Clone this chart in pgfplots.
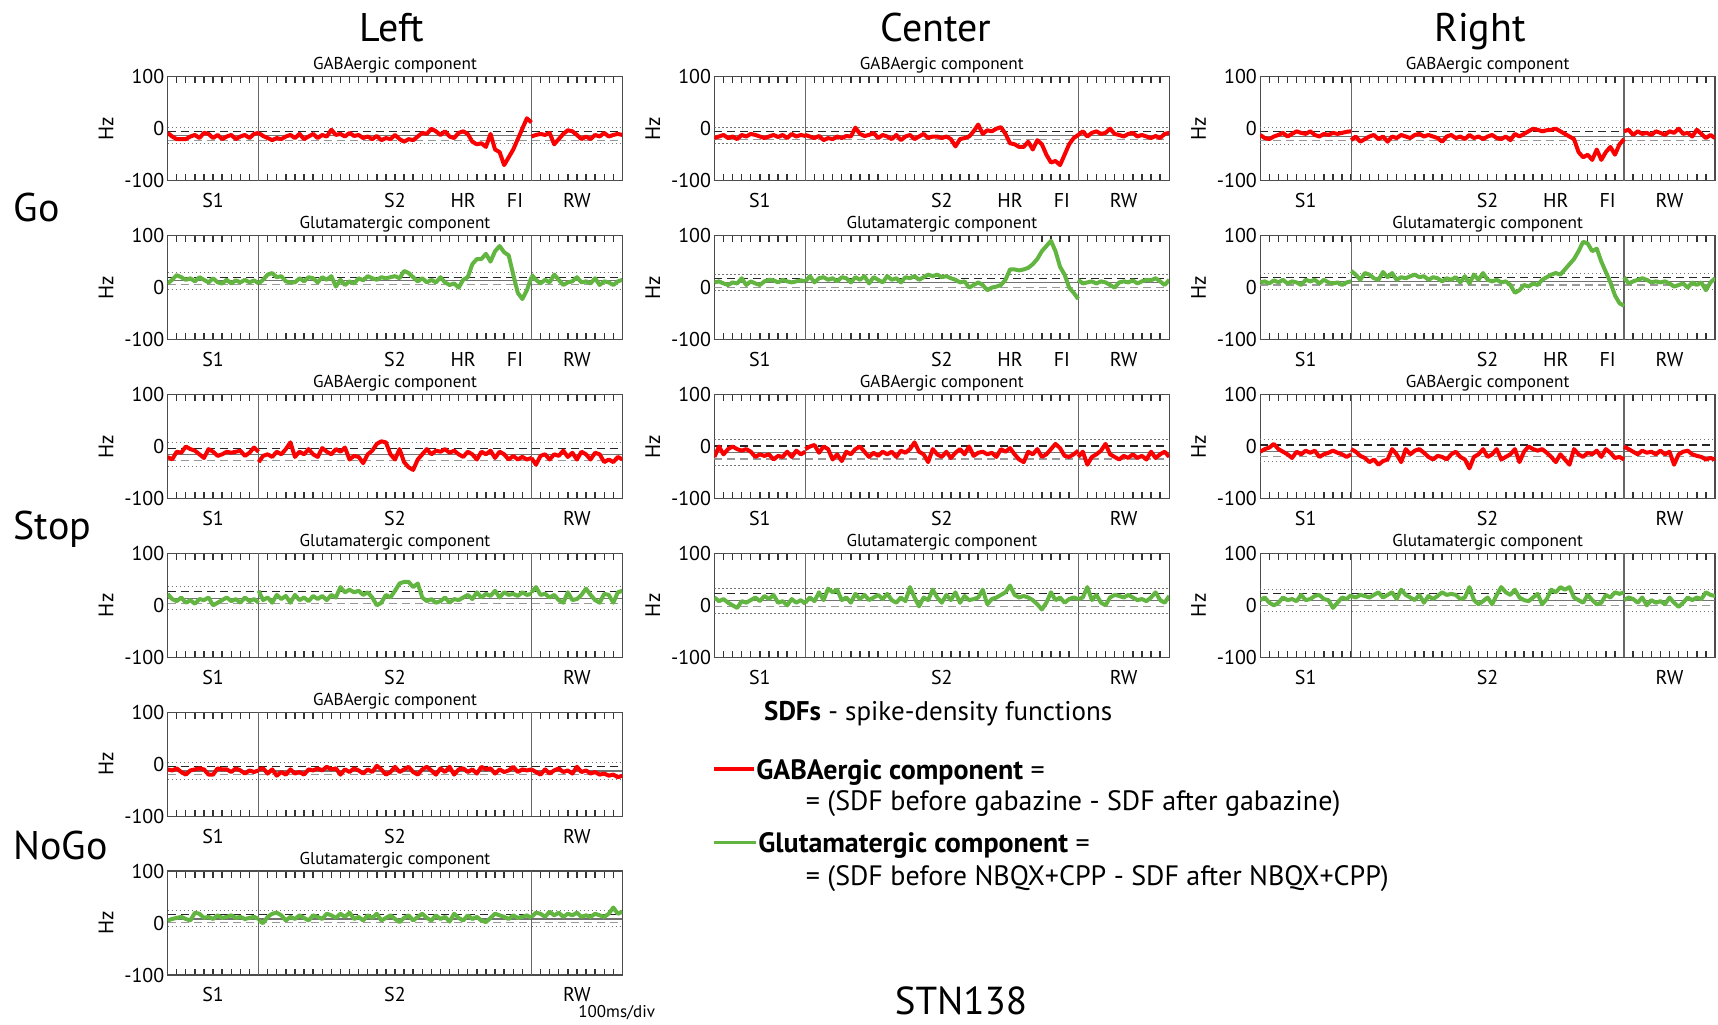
\documentclass[border=0pt]{standalone}
\usepackage{pgfplots}
\pgfplotsset{compat=1.18}
\usepackage{fontspec}
\setmainfont{PT Sans}
\definecolor{gred}{RGB}{250,0,0}
\definecolor{ggreen}{RGB}{98,181,64}
\pgfplotsset{
  panel/.style={
    anchor=north west, scale only axis, width=227.4pt, height=52pt,
    xmin=0, xmax=50, ymin=-100, ymax=100,
    axis line style={black!70, line width=0.7pt},
    every tick/.style={black!80, line width=0.7pt},
    major tick length=0pt, minor tick length=3.2pt, tick align=inside,
    xtick pos=both, ytick pos=left,
    minor xtick={1,...,49},
    ytick={-100,0,100}, yticklabels={-100,0,100},
    tick label style={font=\fontsize{10}{10}\selectfont},
    yticklabel style={inner sep=1.5pt},
    xticklabel style={anchor=base, yshift=-13.4pt, inner sep=0pt},
    title style={font=\fontsize{8.6}{8.6}\selectfont, at={(axis description cs:0.5,1)}, anchor=base, yshift=-2.6pt, inner sep=0pt},
    ylabel=Hz,
    ylabel style={font=\fontsize{10.5}{10.5}\selectfont, at={(axis description cs:0,0.5)}, anchor=center, yshift=30.8pt},
  },
  gaba/.style={title=GABAergic component},
  glu/.style={title=Glutamatergic component},
  go/.style={xtick={5,25,32.5,38.2,45}, xticklabels={S1,S2,HR,FI,RW}},
  st/.style={xtick={5,25,45}, xticklabels={S1,S2,RW}},
  redtr/.style={color=gred, line width=2pt, line join=round, mark=none},
  grntr/.style={color=ggreen, line width=2pt, line join=round, mark=none},
  rdot/.style={black!55, line width=0.5pt, dash pattern=on 0.6pt off 1.4pt, mark=none},
  rdashA/.style={black!85, line width=0.55pt, dash pattern=on 4pt off 2.5pt, mark=none},
  rsolid/.style={black!55, line width=0.55pt, mark=none},
  rdashB/.style={black!40, line width=0.55pt, dash pattern=on 4pt off 2.5pt, mark=none},
}
\newcommand{\refl}[5]{%
  \addplot[rdot] coordinates {(0,#1)(50,#1)};
  \addplot[rdashA] coordinates {(0,#2)(50,#2)};
  \addplot[rsolid] coordinates {(0,#3)(50,#3)};
  \addplot[rdashB] coordinates {(0,#4)(50,#4)};
  \addplot[rdot] coordinates {(0,#5)(50,#5)};
  \draw[black!60, line width=0.6pt] (10,-100) -- (10,100);
  \draw[black!60, line width=0.6pt] (40,-100) -- (40,100);
}
\begin{document}
\begin{tikzpicture}
\useasboundingbox (0,0) rectangle (859pt,-512pt);

% column and row headings
\node[anchor=base, font=\fontsize{20}{24}\selectfont] at (196pt,-20.8pt) {Left};
\node[anchor=base, font=\fontsize{20}{24}\selectfont] at (468pt,-20.8pt) {Center};
\node[anchor=base, font=\fontsize{20}{24}\selectfont] at (740pt,-20.8pt) {Right};
\node[anchor=base west, inner sep=0pt, font=\fontsize{20}{24}\selectfont] at (6.6pt,-110.7pt) {Go};
\node[anchor=base west, inner sep=0pt, font=\fontsize{20}{24}\selectfont] at (6.6pt,-269.5pt) {Stop};
\node[anchor=base west, inner sep=0pt, font=\fontsize{20}{24}\selectfont] at (6.6pt,-429.5pt) {NoGo};

% ===== Go Left =====
\begin{axis}[panel, gaba, go, at={(83.8pt,-38.35pt)}]
\refl{2}{-5}{-13}{-22}{-29}
\addplot[redtr] coordinates {(0,-8)(0.5,-15)(1,-20)(1.5,-20)(2,-20)(2.5,-15)(3,-12)(3.5,-18)(4,-8)(4.5,-10)(5,-18)(5.5,-12)(6,-20)(6.5,-15)(7,-12)(7.5,-20)(8,-15)(8.5,-12)(9,-18)(9.5,-10)(10,-8)};
\addplot[redtr] coordinates {(10,-8)(10.5,-14)(11,-18)(11.5,-22)(12,-18)(12.5,-20)(13,-15)(13.5,-12)(14,-18)(14.5,-10)(15,-20)(15.5,-15)(16,-10)(16.5,-18)(17,-12)(17.5,-15)(18,-2)(18.5,-12)(19,-10)(19.5,-15)(20,-8)(20.5,-14)(21,-12)(21.5,-18)(22,-15)(22.5,-20)(23,-14)(23.5,-22)(24,-18)(24.5,-20)(25,-12)(25.5,-20)(26,-25)(26.5,-20)(27,-22)(27.5,-15)(28,-8)(28.5,-10)(29,0)(29.5,-5)(30,-12)(30.5,-5)(31,-15)(31.5,-18)(32,-8)(32.5,-5)(33,-10)(33.5,-25)(34,-30)(34.5,-28)(35,-35)(35.5,-10)(36,-40)(36.5,-45)(37,-70)(37.5,-55)(38,-40)(38.5,-20)(39,0)(39.5,20)(40,12)};
\addplot[redtr] coordinates {(40,-15)(40.5,-12)(41,-10)(41.5,-12)(42,-8)(42.5,-30)(43,-20)(43.5,-10)(44,-3)(44.5,-5)(45,-12)(45.5,-20)(46,-15)(46.5,-20)(47,-12)(47.5,-15)(48,-8)(48.5,-15)(49,-12)(49.5,-10)(50,-12)};
\end{axis}
\begin{axis}[panel, glu, go, at={(83.8pt,-117.8pt)}]
\refl{29}{19}{13}{6}{-3}
\addplot[grntr] coordinates {(0,8)(0.5,15)(1,24)(1.5,20)(2,15)(2.5,18)(3,12)(3.5,20)(4,15)(4.5,10)(5,18)(5.5,10)(6,8)(6.5,15)(7,8)(7.5,14)(8,10)(8.5,15)(9,10)(9.5,14)(10,8)};
\addplot[grntr] coordinates {(10,8)(10.5,15)(11,25)(11.5,28)(12,20)(12.5,22)(13,12)(13.5,10)(14,10)(14.5,18)(15,12)(15.5,20)(16,18)(16.5,10)(17,20)(17.5,15)(18,22)(18.5,2)(19,15)(19.5,5)(20,12)(20.5,8)(21,18)(21.5,14)(22,22)(22.5,18)(23,15)(23.5,20)(24,18)(24.5,20)(25,22)(25.5,18)(26,32)(26.5,28)(27,20)(27.5,12)(28,18)(28.5,10)(29,15)(29.5,10)(30,20)(30.5,10)(31,5)(31.5,8)(32,0)(32.5,15)(33,20)(33.5,45)(34,55)(34.5,55)(35,65)(35.5,50)(36,70)(36.5,80)(37,68)(37.5,62)(38,25)(38.5,-10)(39,-22)(39.5,-5)(40,20)};
\addplot[grntr] coordinates {(40,25)(40.5,15)(41,8)(41.5,15)(42,10)(42.5,25)(43,15)(43.5,5)(44,10)(44.5,12)(45,20)(45.5,10)(46,12)(46.5,8)(47,18)(47.5,5)(48,12)(48.5,10)(49,5)(49.5,12)(50,15)};
\end{axis}

% ===== Go Center =====
\begin{axis}[panel, gaba, go, at={(357.2pt,-38.35pt)}]
\refl{2}{-5}{-13}{-21}{-29}
\addplot[redtr] coordinates {(0,-18)(0.5,-15)(1,-12)(1.5,-18)(2,-15)(2.5,-20)(3,-12)(3.5,-15)(4,-10)(4.5,-12)(5,-15)(5.5,-18)(6,-15)(6.5,-12)(7,-16)(7.5,-12)(8,-18)(8.5,-10)(9,-15)(9.5,-12)(10,-14)};
\addplot[redtr] coordinates {(10,-12)(10.5,-15)(11,-18)(11.5,-14)(12,-22)(12.5,-18)(13,-20)(13.5,-15)(14,-18)(14.5,-14)(15,-15)(15.5,2)(16,-10)(16.5,-14)(17,-12)(17.5,-8)(18,-18)(18.5,-12)(19,-15)(19.5,-20)(20,-12)(20.5,-22)(21,-15)(21.5,-12)(22,-20)(22.5,-15)(23,-10)(23.5,-18)(24,-15)(24.5,-15)(25,-18)(25.5,-15)(26,-20)(26.5,-34)(27,-20)(27.5,-18)(28,-15)(28.5,-5)(29,8)(29.5,-10)(30,-3)(30.5,-5)(31,0)(31.5,3)(32,-10)(32.5,-28)(33,-30)(33.5,-35)(34,-35)(34.5,-25)(35,-40)(35.5,-22)(36,-30)(36.5,-50)(37,-65)(37.5,-62)(38,-70)(38.5,-50)(39,-30)(39.5,-18)(40,-12)};
\addplot[redtr] coordinates {(40,-12)(40.5,-5)(41,-15)(41.5,-8)(42,-5)(42.5,-10)(43,-8)(43.5,0)(44,-10)(44.5,-12)(45,-15)(45.5,-10)(46,-8)(46.5,-15)(47,-12)(47.5,-15)(48,-18)(48.5,-14)(49,-18)(49.5,-10)(50,-8)};
\end{axis}
\begin{axis}[panel, glu, go, at={(357.2pt,-117.8pt)}]
\refl{26}{18}{10}{1}{-5}
\addplot[grntr] coordinates {(0,10)(0.5,12)(1,8)(1.5,5)(2,10)(2.5,8)(3,18)(3.5,5)(4,12)(4.5,8)(5,5)(5.5,12)(6,15)(6.5,14)(7,10)(7.5,15)(8,12)(8.5,10)(9,12)(9.5,14)(10,12)};
\addplot[grntr] coordinates {(10,12)(10.5,22)(11,10)(11.5,18)(12,20)(12.5,15)(13,18)(13.5,12)(14,20)(14.5,18)(15,10)(15.5,20)(16,15)(16.5,22)(17,8)(17.5,20)(18,15)(18.5,10)(19,22)(19.5,15)(20,18)(20.5,10)(21,20)(21.5,18)(22,22)(22.5,15)(23,20)(23.5,25)(24,22)(24.5,25)(25,20)(25.5,22)(26,18)(26.5,15)(27,10)(27.5,12)(28,0)(28.5,5)(29,10)(29.5,5)(30,-5)(30.5,0)(31,2)(31.5,5)(32,15)(32.5,35)(33,35)(33.5,33)(34,35)(34.5,38)(35,45)(35.5,55)(36,70)(36.5,80)(37,90)(37.5,70)(38,40)(38.5,25)(39,0)(39.5,-10)(40,-22)};
\addplot[grntr] coordinates {(40,15)(40.5,8)(41,10)(41.5,12)(42,8)(42.5,12)(43,10)(43.5,5)(44,0)(44.5,10)(45,12)(45.5,10)(46,14)(46.5,8)(47,12)(47.5,15)(48,14)(48.5,18)(49,12)(49.5,5)(50,15)};
\end{axis}

% ===== Go Right =====
\begin{axis}[panel, gaba, go, at={(630.1pt,-38.35pt)}]
\refl{2}{-5}{-15}{-22}{-30}
\addplot[redtr] coordinates {(0,-12)(0.5,-18)(1,-20)(1.5,-15)(2,-12)(2.5,-8)(3,-15)(3.5,-10)(4,-5)(4.5,-8)(5,-10)(5.5,-5)(6,-12)(6.5,-15)(7,-10)(7.5,-12)(8,-8)(8.5,-10)(9,-8)(9.5,-6)(10,-5)};
\addplot[redtr] coordinates {(10,-22)(10.5,-15)(11,-25)(11.5,-20)(12,-15)(12.5,-12)(13,-20)(13.5,-15)(14,-25)(14.5,-15)(15,-18)(15.5,-12)(16,-15)(16.5,-18)(17,-12)(17.5,-10)(18,-15)(18.5,-12)(19,-15)(19.5,-18)(20,-25)(20.5,-15)(21,-12)(21.5,-18)(22,-15)(22.5,-20)(23,-12)(23.5,-18)(24,-15)(24.5,-20)(25,-15)(25.5,-12)(26,-18)(26.5,-20)(27,-15)(27.5,-22)(28,-10)(28.5,-15)(29,-10)(29.5,-5)(30,0)(30.5,-2)(31,-5)(31.5,-3)(32,-2)(32.5,0)(33,-5)(33.5,-10)(34,-15)(34.5,-20)(35,-45)(35.5,-55)(36,-50)(36.5,-60)(37,-40)(37.5,-60)(38,-45)(38.5,-35)(39,-50)(39.5,-30)(40,-20)};
\addplot[redtr] coordinates {(40,-5)(40.5,-2)(41,-12)(41.5,-5)(42,-10)(42.5,-8)(43,-12)(43.5,-5)(44,-8)(44.5,-12)(45,-5)(45.5,-8)(46,0)(46.5,-10)(47,-8)(47.5,-15)(48,-2)(48.5,-10)(49,-18)(49.5,-12)(50,-18)};
\end{axis}
\begin{axis}[panel, glu, go, at={(630.1pt,-117.8pt)}]
\refl{27}{19}{12}{5}{-3}
\addplot[grntr] coordinates {(0,10)(0.5,12)(1,8)(1.5,14)(2,10)(2.5,15)(3,8)(3.5,12)(4,10)(4.5,5)(5,15)(5.5,12)(6,15)(6.5,8)(7,15)(7.5,10)(8,8)(8.5,10)(9,5)(9.5,10)(10,12)};
\addplot[grntr] coordinates {(10,32)(10.5,25)(11,15)(11.5,28)(12,25)(12.5,18)(13,15)(13.5,30)(14,20)(14.5,28)(15,15)(15.5,20)(16,18)(16.5,22)(17,25)(17.5,20)(18,22)(18.5,15)(19,20)(19.5,18)(20,12)(20.5,18)(21,15)(21.5,20)(22,10)(22.5,22)(23,8)(23.5,25)(24,15)(24.5,28)(25,15)(25.5,12)(26,15)(26.5,10)(27,12)(27.5,5)(28,-10)(28.5,-5)(29,5)(29.5,2)(30,8)(30.5,5)(31,15)(31.5,20)(32,25)(32.5,28)(33,25)(33.5,35)(34,45)(34.5,55)(35,70)(35.5,88)(36,85)(36.5,70)(37,75)(37.5,50)(38,30)(38.5,10)(39,-15)(39.5,-30)(40,-35)};
\addplot[grntr] coordinates {(40,20)(40.5,8)(41,12)(41.5,15)(42,18)(42.5,15)(43,10)(43.5,12)(44,10)(44.5,12)(45,8)(45.5,2)(46,5)(46.5,8)(47,0)(47.5,10)(48,5)(48.5,10)(49,-5)(49.5,10)(50,18)};
\end{axis}

% ===== Stop Left =====
\begin{axis}[panel, gaba, st, at={(83.8pt,-197.25pt)}]
\refl{8}{-3}{-15}{-27}{-38}
\addplot[redtr] coordinates {(0,-20)(0.5,-25)(1,-10)(1.5,-12)(2,0)(2.5,-5)(3,-8)(3.5,-15)(4,-22)(4.5,-5)(5,-10)(5.5,-18)(6,-15)(6.5,-10)(7,-12)(7.5,-10)(8,-8)(8.5,-18)(9,-12)(9.5,-2)(10,-10)};
\addplot[redtr] coordinates {(10,-30)(10.5,-18)(11,-15)(11.5,-20)(12,-10)(12.5,-15)(13,-5)(13.5,8)(14,-20)(14.5,-10)(15,-15)(15.5,-5)(16,-15)(16.5,-20)(17,-3)(17.5,-10)(18,-15)(18.5,-5)(19,-10)(19.5,-2)(20,-25)(20.5,-18)(21,-20)(21.5,-32)(22,-15)(22.5,-8)(23,5)(23.5,10)(24,8)(24.5,-15)(25,-25)(25.5,-5)(26,-30)(26.5,-40)(27,-45)(27.5,-25)(28,-15)(28.5,-5)(29,-15)(29.5,-8)(30,-10)(30.5,-5)(31,-12)(31.5,-8)(32,-15)(32.5,-20)(33,-10)(33.5,-15)(34,-25)(34.5,-10)(35,-15)(35.5,-8)(36,-22)(36.5,-10)(37,-15)(37.5,-25)(38,-18)(38.5,-25)(39,-20)(39.5,-25)(40,-22)};
\addplot[redtr] coordinates {(40,-22)(40.5,-35)(41,-18)(41.5,-15)(42,-25)(42.5,-15)(43,-18)(43.5,-8)(44,-20)(44.5,-12)(45,-25)(45.5,-10)(46,-15)(46.5,-25)(47,-12)(47.5,-15)(48,-30)(48.5,-25)(49,-30)(49.5,-20)(50,-25)};
\end{axis}
\begin{axis}[panel, glu, st, at={(83.8pt,-276.65pt)}]
\refl{36}{26}{13}{3}{-8}
\addplot[grntr] coordinates {(0,22)(0.5,12)(1,8)(1.5,15)(2,5)(2.5,10)(3,3)(3.5,12)(4,10)(4.5,15)(5,0)(5.5,5)(6,10)(6.5,15)(7,8)(7.5,12)(8,5)(8.5,15)(9,8)(9.5,12)(10,5)};
\addplot[grntr] coordinates {(10,28)(10.5,10)(11,15)(11.5,5)(12,20)(12.5,12)(13,18)(13.5,5)(14,20)(14.5,10)(15,15)(15.5,8)(16,18)(16.5,12)(17,18)(17.5,10)(18,20)(18.5,15)(19,35)(19.5,25)(20,30)(20.5,25)(21,28)(21.5,20)(22,25)(22.5,15)(23,0)(23.5,5)(24,20)(24.5,15)(25,28)(25.5,42)(26,45)(26.5,45)(27,35)(27.5,42)(28,15)(28.5,8)(29,12)(29.5,5)(30,8)(30.5,15)(31,5)(31.5,12)(32,10)(32.5,15)(33,20)(33.5,12)(34,25)(34.5,15)(35,22)(35.5,18)(36,28)(36.5,15)(37,25)(37.5,20)(38,22)(38.5,18)(39,25)(39.5,20)(40,22)};
\addplot[grntr] coordinates {(40,25)(40.5,35)(41,20)(41.5,22)(42,15)(42.5,20)(43,10)(43.5,5)(44,25)(44.5,10)(45,12)(45.5,20)(46,32)(46.5,20)(47,10)(47.5,5)(48,22)(48.5,20)(49,5)(49.5,25)(50,28)};
\end{axis}

% ===== Stop Center =====
\begin{axis}[panel, gaba, st, at={(357.2pt,-197.25pt)}]
\refl{13}{1}{-12}{-24}{-36}
\addplot[redtr] coordinates {(0,-20)(0.5,0)(1,-15)(1.5,-5)(2,0)(2.5,-5)(3,-8)(3.5,-5)(4,-10)(4.5,-20)(5,-15)(5.5,-18)(6,-15)(6.5,-25)(7,-18)(7.5,-20)(8,-10)(8.5,-20)(9,-8)(9.5,-15)(10,-10)};
\addplot[redtr] coordinates {(10,-5)(10.5,0)(11,3)(11.5,-12)(12,0)(12.5,-5)(13,-25)(13.5,-15)(14,-28)(14.5,-10)(15,-15)(15.5,-5)(16,0)(16.5,-10)(17,-20)(17.5,-12)(18,-18)(18.5,-10)(19,-15)(19.5,-10)(20,-20)(20.5,-8)(21,-12)(21.5,-5)(22,8)(22.5,-10)(23,-15)(23.5,-30)(24,-5)(24.5,-15)(25,-20)(25.5,-10)(26,-22)(26.5,-12)(27,-5)(27.5,-15)(28,0)(28.5,-18)(29,-12)(29.5,-10)(30,-15)(30.5,-12)(31,-20)(31.5,-5)(32,-10)(32.5,-3)(33,-15)(33.5,-25)(34,-30)(34.5,-10)(35,-15)(35.5,-5)(36,-20)(36.5,-15)(37,-5)(37.5,5)(38,-3)(38.5,-18)(39,-20)(39.5,-15)(40,-8)};
\addplot[redtr] coordinates {(40,-20)(40.5,-10)(41,-35)(41.5,-20)(42,-15)(42.5,-8)(43,5)(43.5,-15)(44,-20)(44.5,-25)(45,-18)(45.5,-22)(46,-15)(46.5,-22)(47,-18)(47.5,-25)(48,-10)(48.5,-22)(49,-15)(49.5,-10)(50,-20)};
\end{axis}
\begin{axis}[panel, glu, st, at={(357.2pt,-276.65pt)}]
\refl{33}{22}{9}{-3}{-16}
\addplot[grntr] coordinates {(0,15)(0.5,8)(1,12)(1.5,5)(2,0)(2.5,-5)(3,8)(3.5,5)(4,10)(4.5,15)(5,8)(5.5,18)(6,12)(6.5,20)(7,5)(7.5,8)(8,0)(8.5,12)(9,5)(9.5,10)(10,3)};
\addplot[grntr] coordinates {(10,5)(10.5,15)(11,8)(11.5,25)(12,10)(12.5,32)(13,25)(13.5,30)(14,10)(14.5,15)(15,5)(15.5,22)(16,12)(16.5,20)(17,10)(17.5,15)(18,20)(18.5,12)(19,22)(19.5,10)(20,5)(20.5,15)(21,8)(21.5,35)(22,15)(22.5,-2)(23,15)(23.5,10)(24,30)(24.5,15)(25,5)(25.5,20)(26,10)(26.5,25)(27,5)(27.5,18)(28,10)(28.5,12)(29,15)(29.5,30)(30,2)(30.5,12)(31,15)(31.5,20)(32,25)(32.5,38)(33,20)(33.5,15)(34,18)(34.5,15)(35,10)(35.5,2)(36,-8)(36.5,5)(37,25)(37.5,10)(38,15)(38.5,5)(39,12)(39.5,15)(40,12)};
\addplot[grntr] coordinates {(40,12)(40.5,15)(41,35)(41.5,10)(42,20)(42.5,5)(43,0)(43.5,15)(44,20)(44.5,18)(45,15)(45.5,20)(46,15)(46.5,10)(47,12)(47.5,8)(48,15)(48.5,25)(49,10)(49.5,5)(50,18)};
\end{axis}

% ===== Stop Right =====
\begin{axis}[panel, gaba, st, at={(630.1pt,-197.25pt)}]
\refl{13}{3}{-9}{-20}{-29}
\addplot[redtr] coordinates {(0,-10)(0.5,-5)(1,-2)(1.5,5)(2,-5)(2.5,-10)(3,-15)(3.5,-22)(4,-10)(4.5,-15)(5,-8)(5.5,-12)(6,-8)(6.5,-20)(7,-15)(7.5,-12)(8,-8)(8.5,-12)(9,-15)(9.5,-20)(10,-15)};
\addplot[redtr] coordinates {(10,-5)(10.5,-10)(11,-18)(11.5,-22)(12,-30)(12.5,-25)(13,-35)(13.5,-28)(14,-25)(14.5,-5)(15,-15)(15.5,-30)(16,-5)(16.5,-15)(17,-8)(17.5,-5)(18,-12)(18.5,-20)(19,-25)(19.5,-18)(20,-20)(20.5,-25)(21,-15)(21.5,-10)(22,-20)(22.5,-25)(23,-42)(23.5,-20)(24,-15)(24.5,-5)(25,-20)(25.5,-15)(26,-5)(26.5,-25)(27,-20)(27.5,-15)(28,-5)(28.5,-30)(29,-10)(29.5,0)(30,-5)(30.5,-8)(31,-5)(31.5,-12)(32,-20)(32.5,-30)(33,-15)(33.5,-25)(34,-35)(34.5,-5)(35,-15)(35.5,-20)(36,-12)(36.5,-15)(37,-8)(37.5,-20)(38,-5)(38.5,-12)(39,-22)(39.5,-20)(40,-25)};
\addplot[redtr] coordinates {(40,0)(40.5,-5)(41,-10)(41.5,-15)(42,-8)(42.5,-12)(43,-10)(43.5,-15)(44,-8)(44.5,-15)(45,-10)(45.5,-35)(46,-15)(46.5,-10)(47,-8)(47.5,-15)(48,-18)(48.5,-20)(49,-25)(49.5,-22)(50,-25)};
\end{axis}
\begin{axis}[panel, glu, st, at={(630.1pt,-276.65pt)}]
\refl{31}{22}{10}{0}{-12}
\addplot[grntr] coordinates {(0,10)(0.5,15)(1,5)(1.5,0)(2,5)(2.5,15)(3,10)(3.5,12)(4,8)(4.5,20)(5,10)(5.5,12)(6,18)(6.5,20)(7,12)(7.5,10)(8,-5)(8.5,5)(9,15)(9.5,12)(10,20)};
\addplot[grntr] coordinates {(10,18)(10.5,15)(11,20)(11.5,18)(12,15)(12.5,20)(13,25)(13.5,15)(14,20)(14.5,25)(15,12)(15.5,30)(16,20)(16.5,15)(17,10)(17.5,20)(18,5)(18.5,18)(19,12)(19.5,18)(20,25)(20.5,20)(21,22)(21.5,20)(22,12)(22.5,15)(23,35)(23.5,10)(24,2)(24.5,8)(25,15)(25.5,2)(26,20)(26.5,35)(27,25)(27.5,20)(28,30)(28.5,15)(29,10)(29.5,8)(30,15)(30.5,22)(31,2)(31.5,12)(32,30)(32.5,25)(33,35)(33.5,30)(34,35)(34.5,15)(35,10)(35.5,5)(36,20)(36.5,10)(37,2)(37.5,5)(38,20)(38.5,15)(39,25)(39.5,22)(40,25)};
\addplot[grntr] coordinates {(40,10)(40.5,15)(41,12)(41.5,5)(42,15)(42.5,0)(43,10)(43.5,5)(44,8)(44.5,2)(45,15)(45.5,5)(46,-3)(46.5,5)(47,15)(47.5,10)(48,15)(48.5,12)(49,25)(49.5,20)(50,18)};
\end{axis}

% ===== NoGo Left =====
\begin{axis}[panel, gaba, st, at={(83.8pt,-356.1pt)}]
\refl{4}{-4}{-13}{-20}{-29}
\addplot[redtr] coordinates {(0,-10)(0.5,-12)(1,-8)(1.5,-15)(2,-20)(2.5,-12)(3,-10)(3.5,-8)(4,-10)(4.5,-20)(5,-20)(5.5,-8)(6,-10)(6.5,-10)(7,-15)(7.5,-8)(8,-12)(8.5,-18)(9,-12)(9.5,-15)(10,-12)};
\addplot[redtr] coordinates {(10,-10)(10.5,-8)(11,-18)(11.5,-10)(12,-22)(12.5,-15)(13,-20)(13.5,-10)(14,-18)(14.5,-15)(15,-20)(15.5,-10)(16,-12)(16.5,-8)(17,-12)(17.5,-5)(18,-10)(18.5,-8)(19,-20)(19.5,-10)(20,-15)(20.5,-8)(21,-12)(21.5,-18)(22,-10)(22.5,-15)(23,-3)(23.5,-10)(24,-20)(24.5,-15)(25,-5)(25.5,-15)(26,-10)(26.5,-5)(27,-15)(27.5,-20)(28,-10)(28.5,-5)(29,-12)(29.5,-20)(30,-8)(30.5,-15)(31,-5)(31.5,-20)(32,-10)(32.5,-8)(33,-15)(33.5,-10)(34,-18)(34.5,-5)(35,-10)(35.5,-8)(36,-18)(36.5,-10)(37,-15)(37.5,-12)(38,-5)(38.5,-15)(39,-10)(39.5,-12)(40,-10)};
\addplot[redtr] coordinates {(40,-10)(40.5,-15)(41,-20)(41.5,-10)(42,-18)(42.5,-12)(43,-8)(43.5,-15)(44,-12)(44.5,-18)(45,-5)(45.5,-15)(46,-12)(46.5,-18)(47,-15)(47.5,-20)(48,-18)(48.5,-22)(49,-20)(49.5,-25)(50,-22)};
\end{axis}
\begin{axis}[panel, glu, st, at={(83.8pt,-435.55pt)}]
\refl{24}{17}{8}{1}{-7}
\addplot[grntr] coordinates {(0,5)(0.5,8)(1,10)(1.5,12)(2,8)(2.5,5)(3,20)(3.5,18)(4,10)(4.5,12)(5,8)(5.5,15)(6,10)(6.5,12)(7,15)(7.5,10)(8,12)(8.5,8)(9,10)(9.5,12)(10,8)};
\addplot[grntr] coordinates {(10,5)(10.5,0)(11,12)(11.5,18)(12,20)(12.5,15)(13,5)(13.5,12)(14,8)(14.5,15)(15,10)(15.5,5)(16,15)(16.5,12)(17,8)(17.5,18)(18,15)(18.5,10)(19,18)(19.5,12)(20,20)(20.5,8)(21,12)(21.5,5)(22,15)(22.5,10)(23,18)(23.5,5)(24,10)(24.5,15)(25,8)(25.5,2)(26,10)(26.5,15)(27,5)(27.5,12)(28,18)(28.5,10)(29,5)(29.5,15)(30,8)(30.5,12)(31,3)(31.5,18)(32,10)(32.5,5)(33,15)(33.5,8)(34,12)(34.5,5)(35,2)(35.5,10)(36,18)(36.5,15)(37,12)(37.5,8)(38,15)(38.5,10)(39,12)(39.5,15)(40,10)};
\addplot[grntr] coordinates {(40,12)(40.5,20)(41,18)(41.5,12)(42,22)(42.5,15)(43,20)(43.5,12)(44,18)(44.5,15)(45,20)(45.5,12)(46,15)(46.5,12)(47,18)(47.5,15)(48,12)(48.5,18)(49,30)(49.5,18)(50,22)};
\end{axis}

% ===== legend text =====
\node[anchor=base west, inner sep=0pt, font=\fontsize{13.5}{15}\selectfont] at (381.9pt,-360.1pt) {\textbf{SDFs} - spike-density functions};
\draw[gred, line width=1.8pt] (357pt,-384.6pt) -- (377pt,-384.6pt);
\node[anchor=base west, inner sep=0pt, font=\fontsize{14}{16}\selectfont] at (378pt,-389.9pt) {\textbf{GABAergic component} =};
\node[anchor=base west, inner sep=0pt, font=\fontsize{14}{16}\selectfont] at (402.7pt,-405.4pt) {= (SDF before gabazine - SDF after gabazine)};
\draw[ggreen, line width=1.8pt] (357pt,-421.3pt) -- (378pt,-421.3pt);
\node[anchor=base west, inner sep=0pt, font=\fontsize{14}{16}\selectfont] at (379pt,-426.2pt) {\textbf{Glutamatergic component} =};
\node[anchor=base west, inner sep=0pt, font=\fontsize{14}{16}\selectfont] at (402.7pt,-442.6pt) {= (SDF before NBQX+CPP - SDF after NBQX+CPP)};
\node[anchor=base, inner sep=0pt, font=\fontsize{19.5}{24}\selectfont] at (480.5pt,-507.3pt) {STN138};
\node[anchor=base west, inner sep=0pt, font=\fontsize{8.5}{10}\selectfont] at (289pt,-508.6pt) {100ms/div};
\end{tikzpicture}
\end{document}
